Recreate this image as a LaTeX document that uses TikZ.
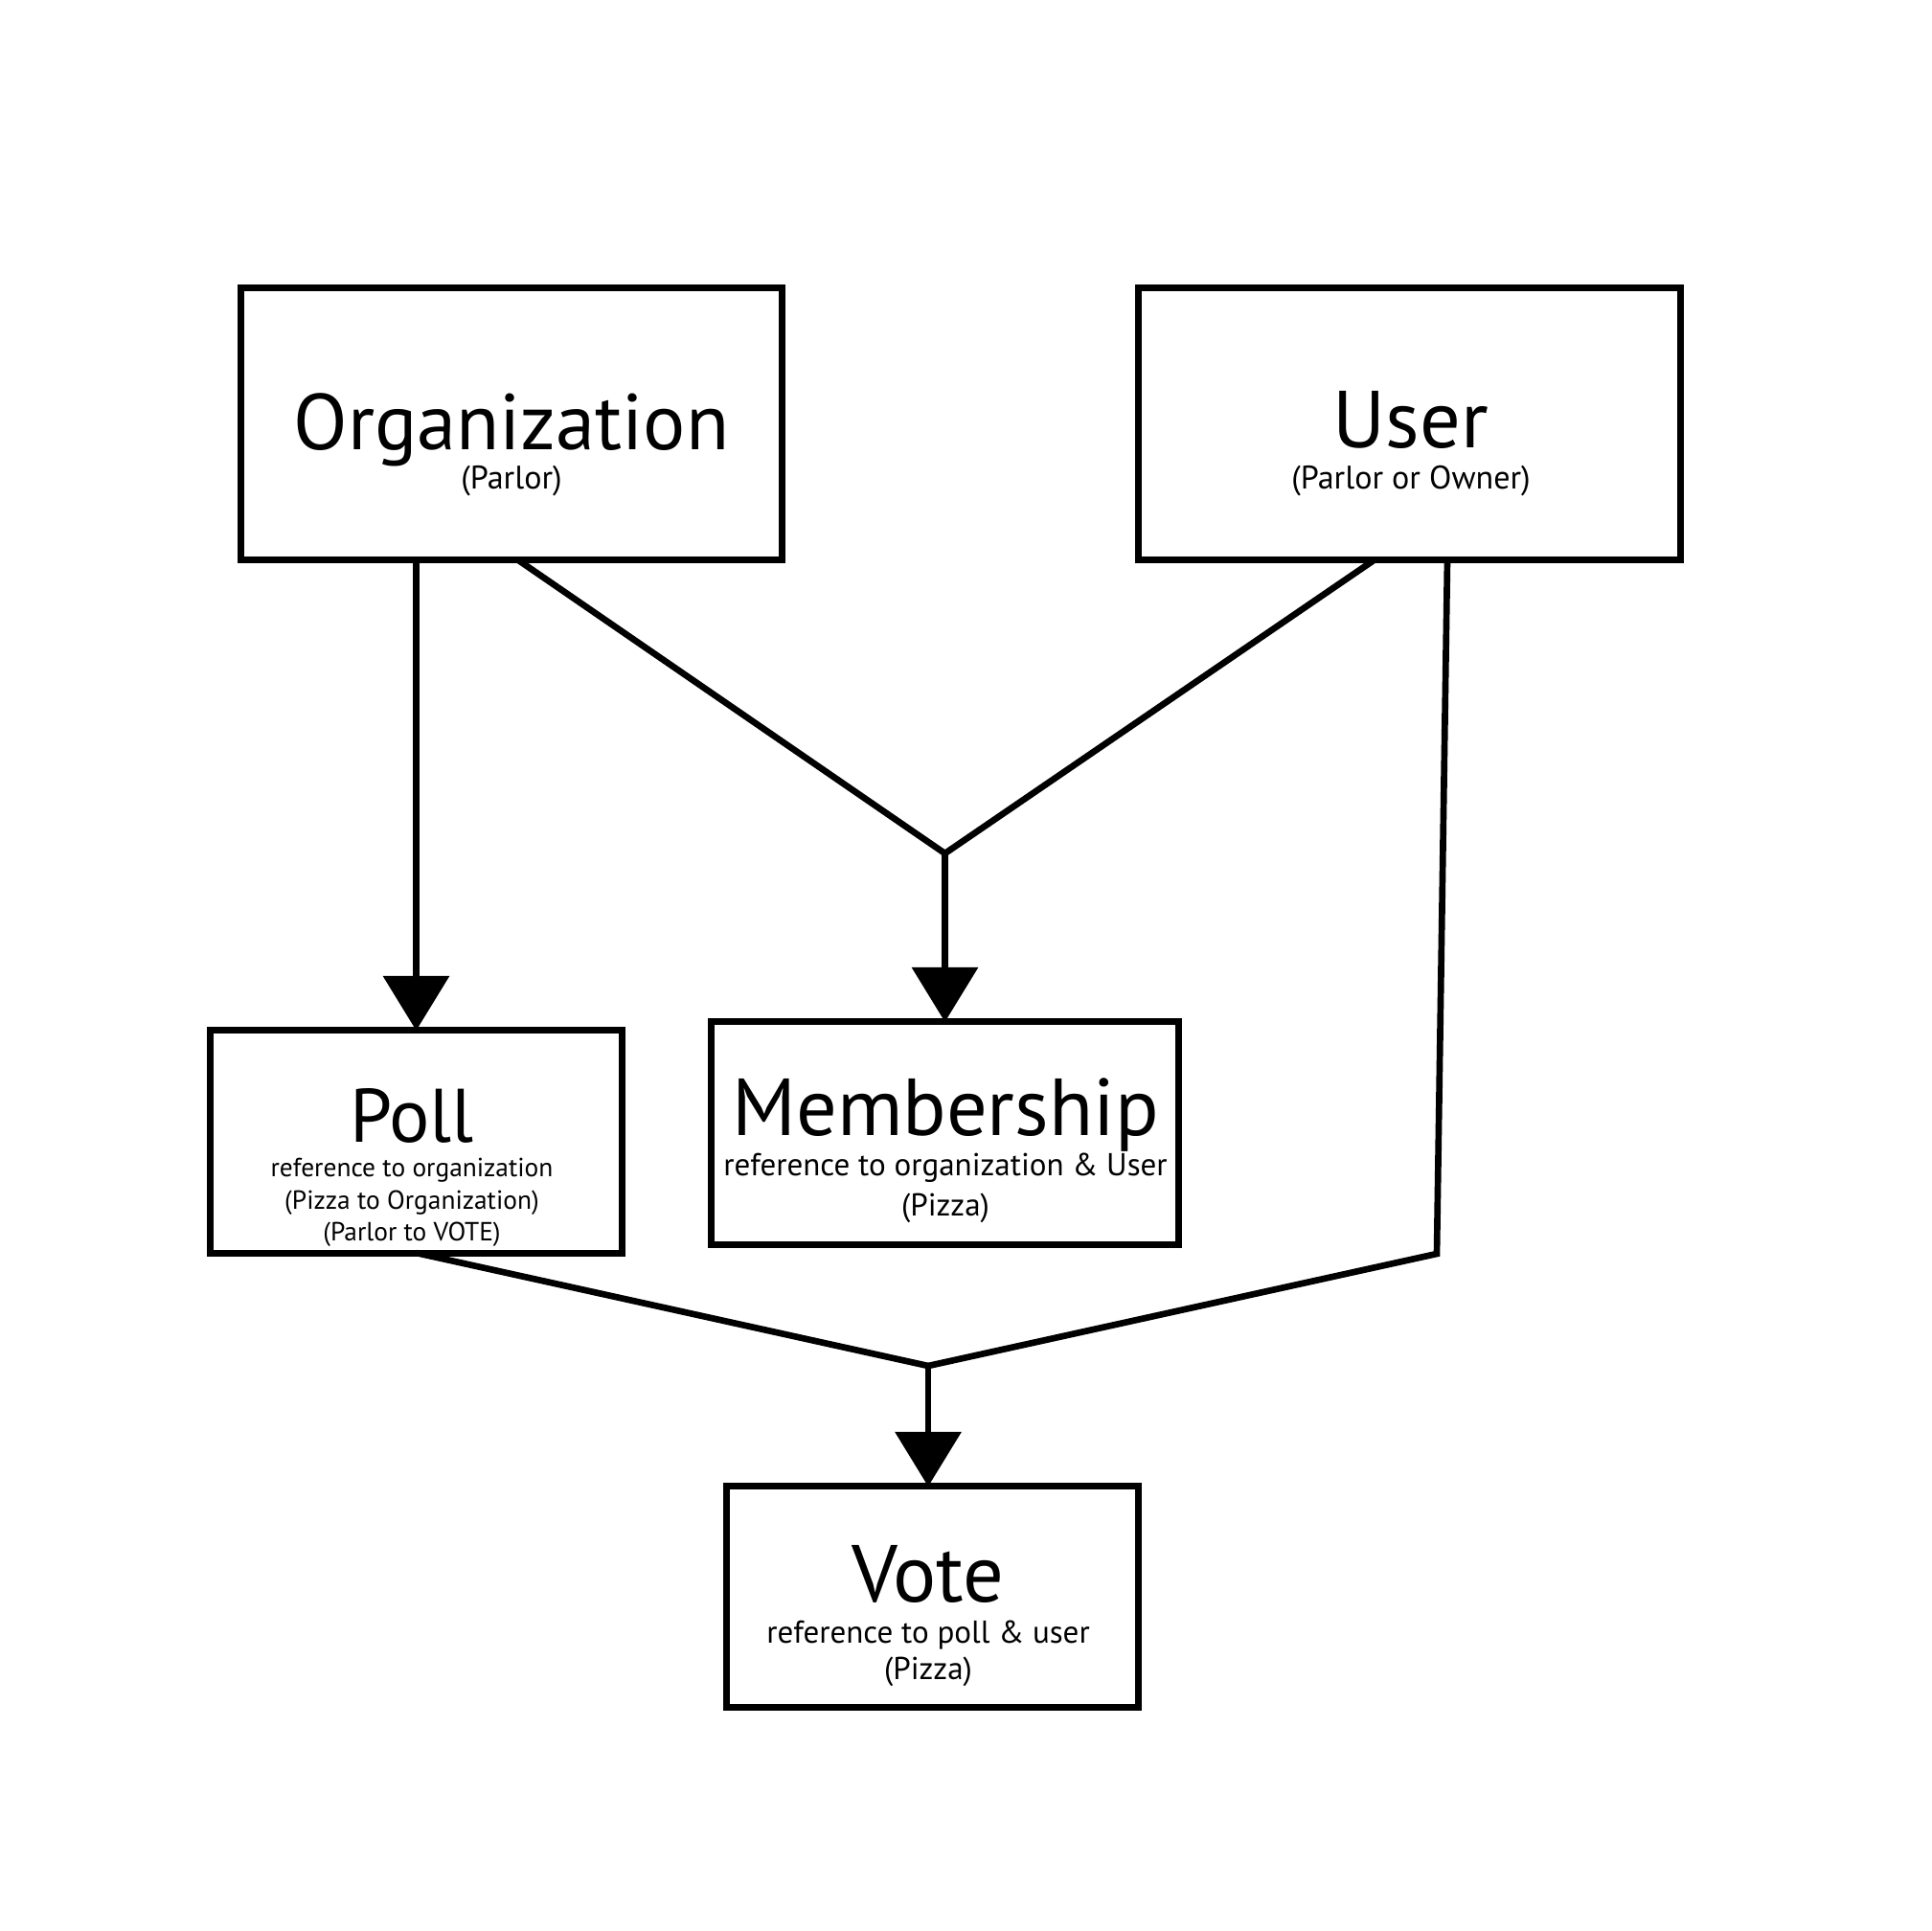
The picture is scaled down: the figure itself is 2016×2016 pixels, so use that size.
\documentclass[tikz,border=0pt]{standalone}
\usepackage{fontspec}
\setmainfont{PT Sans}
\usetikzlibrary{arrows.meta,calc}
\begin{document}
\begin{tikzpicture}[x=0.01cm,y=-0.01cm,
  box/.style={draw,line width=2pt,inner sep=0pt,outer sep=0pt},
  conn/.style={line width=1.9pt},
  arr/.style={conn,-{Triangle[length=0.57cm,width=0.68cm]}},
  title/.style={anchor=base,inner sep=0pt,font=\fontsize{24}{28}\selectfont},
  subA/.style={anchor=base,inner sep=0pt,font=\fontsize{9.7}{11}\selectfont},
  subB/.style={anchor=base,inner sep=0pt,font=\fontsize{7.8}{9}\selectfont},
  subC/.style={anchor=base,inner sep=0pt,font=\fontsize{9.4}{11}\selectfont}]
\useasboundingbox[fill=white] (0,0) rectangle (2016,2016);
% boxes
\node[box,minimum width=5.64cm,minimum height=2.83cm] (org) at (534,442.5) {};
\node[box,minimum width=5.65cm,minimum height=2.83cm] (user) at (1471.5,442.5) {};
\node[box,minimum width=4.29cm,minimum height=2.32cm] (poll) at (434.5,1192) {};
\node[box,minimum width=4.87cm,minimum height=2.32cm] (memb) at (986.5,1183) {};
\node[box,minimum width=4.29cm,minimum height=2.30cm] (vote) at (973.5,1667) {};
% texts
\node[title,font=\fontsize{23.5}{28}\selectfont] (orgT) at (534,470) {Organization};
\node[subA] (orgS) at (534,511) {(Parlor)};
\node[title] (userT) at (1473,468) {User};
\node[subA] (userS) at (1473,511) {(Parlor or Owner)};
\node[title,font=\fontsize{22.5}{28}\selectfont] (pollT) at (430,1192) {Poll};
\node[subB] (pollS1) at (430,1228) {reference to organization};
\node[subB] (pollS2) at (430,1262) {(Pizza to Organization)};
\node[subB] (pollS3) at (430,1295) {(Parlor to VOTE)};
\node[title] (membT) at (987,1185) {Membership};
\node[subC] (membS1) at (987,1227) {reference to organization \& User};
\node[subC] (membS2) at (987,1269) {(Pizza)};
\node[title] (voteT) at (969,1672) {Vote};
\node[subC] (voteS1) at (969,1715) {reference to poll \& user};
\node[subC] (voteS2) at (969,1753) {(Pizza)};
% junctions
\coordinate (j1) at (986.5,891);
\coordinate (j2) at (969,1426);
\coordinate (ubend) at (1500,1309);
% connectors
\draw[arr] (poll.north |- org.south) -- (poll.north);
\draw[conn] ($(org.south)+(6,0)$) -- (j1);
\draw[conn] ($(user.south)+(-36,0)$) -- (j1);
\draw[arr] (j1) -- (memb.north);
\draw[conn] (poll.south) -- (j2);
\draw[conn] ($(user.south)+(39.5,0)$) -- (ubend) -- (j2);
\draw[arr] (j2) -- (j2 |- vote.north);
\end{tikzpicture}
\end{document}
